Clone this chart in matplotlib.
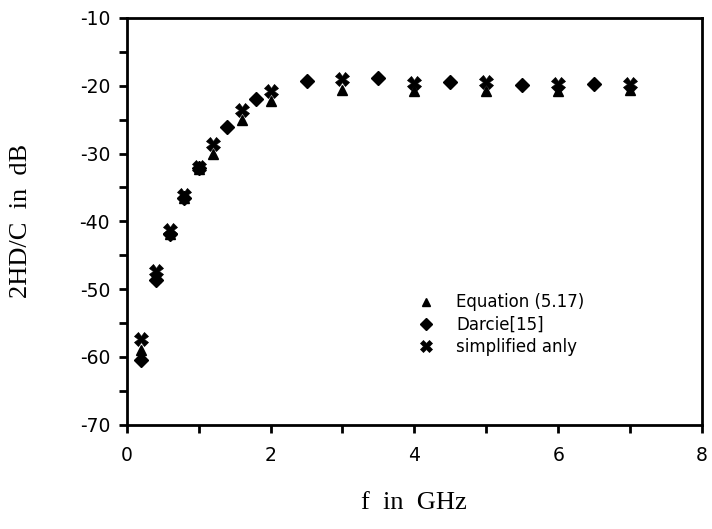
import matplotlib
matplotlib.use("Agg")
import matplotlib.pyplot as plt
from matplotlib.ticker import MultipleLocator

plt.rcParams["axes.unicode_minus"] = False

# frequencies in GHz
f_eq = [0.2, 0.4, 0.6, 0.8, 1.0, 1.2, 1.6, 2.0, 3.0, 4.0, 5.0, 6.0, 7.0]
eq = [-59.0, -48.2, -41.8, -36.6, -32.2, -30.1, -25.0, -22.3, -20.6, -20.8, -20.8, -20.8, -20.6]  # Equation (5.17)
simp = [-57.4, -47.3, -41.2, -36.1, -32.0, -28.6, -23.6, -20.8, -19.0, -19.6, -19.4, -19.7, -19.8]  # simplified anly

f_dar = [0.2, 0.4, 0.6, 0.8, 1.0, 1.4, 1.8, 2.5, 3.5, 4.5, 5.5, 6.5]
darcie = [-60.5, -48.7, -41.9, -36.5, -32.1, -26.1, -21.9, -19.3, -18.9, -19.5, -19.9, -19.8]

fig = plt.figure(figsize=(7.12, 5.29), dpi=100)
ax = fig.add_axes([0.178, 0.197, 0.808, 0.769])

ax.plot(f_eq, eq, linestyle="none", marker="^", color="black", ms=7.5, label="Equation (5.17)")
ax.plot(f_dar, darcie, linestyle="none", marker="D", color="black", ms=7, label="Darcie[15]")
ax.plot(f_eq, simp, linestyle="none", marker="X", color="black", ms=9.5, mew=0.5, label="simplified anly")

ax.set_xlim(0, 8)
ax.set_ylim(-70, -10)
ax.xaxis.set_major_locator(MultipleLocator(2))
ax.xaxis.set_minor_locator(MultipleLocator(1))
ax.yaxis.set_major_locator(MultipleLocator(10))
ax.yaxis.set_minor_locator(MultipleLocator(5))
ax.tick_params(which="both", direction="out", length=6, width=2, labelsize=13.5, pad=6)
ax.tick_params(which="major", axis="x", pad=9)
for s in ax.spines.values():
    s.set_linewidth(2)

ax.set_xlabel("f  in  GHz", family="Liberation Serif", fontsize=19, labelpad=20)
ax.set_ylabel("2HD/C  in  dB", family="Liberation Serif", fontsize=19, labelpad=34)

leg = ax.legend(loc="upper left", bbox_to_anchor=(0.48, 0.36), frameon=False, fontsize=12,
                handletextpad=1.3, labelspacing=0.25, handlelength=1.0, markerscale=0.85)

fig.savefig("out.png", dpi=100)
